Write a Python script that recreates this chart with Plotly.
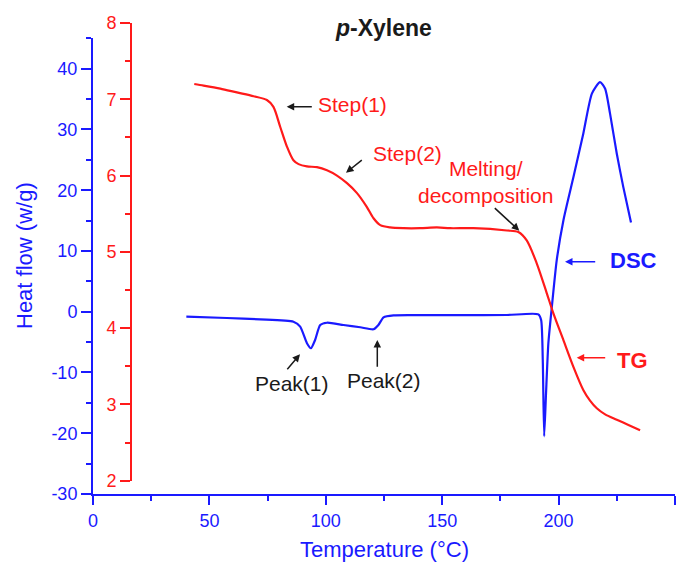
import plotly.graph_objects as go

# ---------------- data ----------------
tg_temp = [43.5, 47.5, 54.7, 61.8, 69.0, 74.7, 77.5, 80.4, 83.3, 86.1, 88.3, 91.9, 96.2,
           100.5, 104.8, 109.1, 113.4, 117.6, 120.5, 123.4, 127.6, 133.4, 140.5, 147.7,
           153.4, 163.4, 177.8, 182.7, 186.3, 190.6, 194.9, 197.8, 202.1, 206.4, 210.6,
           213.5, 216.4, 220.0, 225.0, 230.0, 235.0]
tg_mass = [7.20, 7.18, 7.14, 7.09, 7.04, 6.99, 6.90, 6.64, 6.38, 6.20, 6.15, 6.12, 6.11,
           6.07, 6.00, 5.90, 5.77, 5.59, 5.44, 5.35, 5.32, 5.31, 5.31, 5.32,
           5.31, 5.31, 5.28, 5.26, 5.15, 4.85, 4.46, 4.19, 3.84, 3.49, 3.19,
           3.05, 2.95, 2.87, 2.80, 2.73, 2.66]

dsc_temp = [40.1, 57.5, 71.8, 86.1, 89.0, 91.9, 93.6, 95.4, 97.6, 100.5, 107.6, 114.8,
            120.5, 122.6, 124.8, 129.1, 143.4, 157.7, 177.8, 191.3, 192.5, 193.2, 193.8,
            194.6, 195.6, 197.1, 199.2, 202.1, 206.4, 210.6, 214.3, 217.8, 220.0, 222.1,
            225.0, 227.8, 231.1]
dsc_heat = [-0.82, -1.03, -1.25, -1.64, -2.46, -5.19, -6.01, -4.65, -2.18, -1.81, -2.18,
            -2.56, -2.89, -2.18, -0.92, -0.59, -0.56, -0.55, -0.54, -0.43, -1.36, -7.93,
            -20.5, -13.4, -5.19, 0.82, 8.5, 15.1, 22.2, 29.3, 35.9, 37.8, 36.7, 32.6,
            26.0, 20.5, 14.7]

x_ticks = [0, 50, 100, 150, 200, 250]
heat_ticks = [-30, -20, -10, 0, 10, 20, 30, 40]
mass_ticks = [2, 3, 4, 5, 6, 7, 8]

x_range = [0, 250]
heat_range = [-30, 45]
mass_range = [2, 8]

# ---------------- layout geometry ----------------
W, H = 690, 565
L, R, T, B = 93, 675, 23, 494          # plot area in pixels
PW, PH = R - L, B - T

def px(xp):
    return (xp - L) / PW

def py(yp):
    return (B - yp) / PH

BLUE = "#1a1aff"
RED = "#ff1a1a"
BLACK = "#1a1a1a"
FONT = "Liberation Sans, Arial, sans-serif"

fig = go.Figure()
fig.add_trace(go.Scatter(x=dsc_temp, y=dsc_heat, mode="lines",
                         line=dict(color=BLUE, width=2.2, shape="spline", smoothing=0.6),
                         xaxis="x", yaxis="y", showlegend=False))
fig.add_trace(go.Scatter(x=tg_temp, y=tg_mass, mode="lines",
                         line=dict(color=RED, width=2.2, shape="spline", smoothing=0.8),
                         xaxis="x2", yaxis="y2", showlegend=False))

tickfont_b = dict(family=FONT, size=18, color=BLUE)
tickfont_r = dict(family=FONT, size=18, color=RED)

fig.update_layout(
    width=W, height=H,
    margin=dict(l=L, r=W - R, t=T, b=H - B, pad=0),
    paper_bgcolor="white", plot_bgcolor="rgba(0,0,0,0)",
    font=dict(family=FONT),
    xaxis=dict(domain=[0, 1], range=x_range, anchor="y", automargin=False,
               showline=True, linecolor=BLUE, linewidth=2, showgrid=False, zeroline=False,
               ticks="outside", ticklen=9, tickwidth=2, tickcolor=BLUE,
               tickvals=x_ticks, ticktext=[str(v) for v in x_ticks],
               minor=dict(dtick=25, tick0=0, ticklen=5, tickwidth=2, tickcolor=BLUE,
                          ticks="outside"),
               tickfont=tickfont_b),
    yaxis=dict(domain=[0, py(38.3)], range=heat_range, anchor="x", automargin=False,
               showline=True, linecolor=BLUE, linewidth=2, showgrid=False, zeroline=False,
               ticks="outside", ticklen=10, tickwidth=2, tickcolor=BLUE,
               tickvals=heat_ticks, ticktext=[str(v) for v in heat_ticks],
               minor=dict(dtick=5, tick0=0, ticklen=5, tickwidth=2, tickcolor=BLUE,
                          ticks="outside"),
               tickfont=tickfont_b),
    xaxis2=dict(domain=[0, 1], range=x_range, anchor="y2", visible=False),
    yaxis2=dict(domain=[py(480.7), 1], range=mass_range, anchor="free", automargin=False,
                position=px(131), side="left",
                showline=True, linecolor=RED, linewidth=2, showgrid=False, zeroline=False,
                ticks="outside", ticklen=10, tickwidth=2, tickcolor=RED,
                tickvals=mass_ticks, ticktext=[str(v) for v in mass_ticks],
                minor=dict(dtick=0.5, tick0=0, ticklen=5, tickwidth=2, tickcolor=RED,
                           ticks="outside"),
                tickfont=tickfont_r),
)

ann = []
# axis titles and chart title
ann.append(dict(text="Heat flow (w/g)", x=px(24), y=py(256), textangle=-90,
                font=dict(family=FONT, size=22, color=BLUE)))
ann.append(dict(text="Temperature (°C)", x=px(384), y=py(549),
                font=dict(family=FONT, size=22, color=BLUE)))
ann.append(dict(text="<b><i>p</i>-Xylene</b>", x=px(383), y=py(28),
                font=dict(family=FONT, size=23, color=BLACK)))

# labels
labels = [
    ("Step(1)", 352.3, 105, RED, False),
    ("Step(2)", 407.3, 153.3, RED, False),
    ("Melting/<br>decomposition", 485.5, 182, RED, False),
    ("DSC", 633, 260, BLUE, True),
    ("TG", 632.5, 360, RED, True),
    ("Peak(1)", 291.7, 383.3, BLACK, False),
    ("Peak(2)", 384.2, 380, BLACK, False),
]
for txt, xx, yy, col, bold in labels:
    ann.append(dict(text=f"<b>{txt}</b>" if bold else txt, x=px(xx), y=py(yy),
                    font=dict(family=FONT, size=22 if bold else 21, color=col)))

# arrows: (head_x, head_y, tail_x, tail_y, color)
arrows = [
    (286.7, 106.7, 313.3, 106.7, BLACK),
    (346.0, 172.7, 363.3, 159.0, BLACK),
    (519.3, 230.7, 493.3, 206.7, BLACK),
    (565.0, 261.7, 596.7, 261.7, BLUE),
    (576.7, 357.7, 606.7, 357.7, RED),
    (300.0, 354.3, 286.0, 370.7, BLACK),
    (377.3, 340.0, 377.3, 368.3, BLACK),
]
for hx, hy, tx, ty, col in arrows:
    ann.append(dict(text="", x=px(hx), y=py(hy), ax=tx - hx, ay=ty - hy,
                    showarrow=True, arrowhead=2, arrowsize=1, arrowwidth=1.5,
                    arrowcolor=col))

for a in ann:
    a.setdefault("showarrow", False)
    a.update(xref="paper", yref="paper", xanchor="center", yanchor="middle")
fig.update_layout(annotations=ann)

fig.write_html("out.html", config={"displayModeBar": False},
               post_script="document.body.style.margin='0';document.body.style.padding='0';")
